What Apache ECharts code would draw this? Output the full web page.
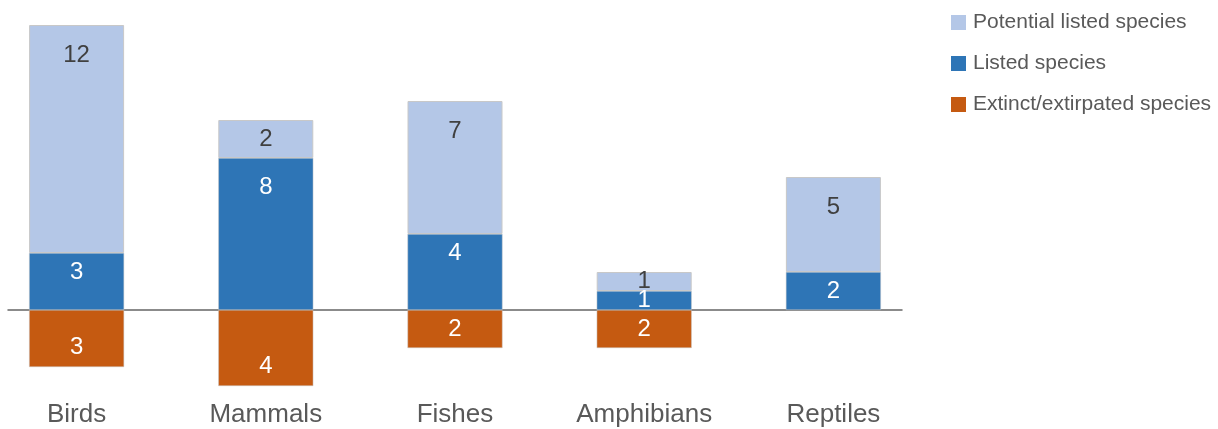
<!DOCTYPE html>
<html>
<head>
<meta charset="utf-8">
<style>
  html, body { margin: 0; padding: 0; background: #ffffff; }
  #chart { width: 1218px; height: 429px; }
</style>
<script src="https://cdn.jsdelivr.net/npm/echarts@6/dist/echarts.min.js"></script>
</head>
<body>
<div id="chart"></div>
<script>
// Species counts per group
const categories = ['Birds', 'Mammals', 'Fishes', 'Amphibians', 'Reptiles'];
const potentialListed = [12, 2, 7, 1, 5];
const listed = [3, 8, 4, 1, 2];
const extinct = [3, 4, 2, 2, 0];   // drawn below the baseline

const FONT = 'Liberation Sans, Arial, sans-serif';
const Y_MIN = -5, Y_MAX = 15;

// Label placement per segment, chosen from the segment's size
function potentialItem(v) {
  return {
    value: v,
    label: v >= 5
      ? { position: 'insideTop', distance: 18 }
      : { position: 'inside' }
  };
}
function listedItem(v) {
  let label;
  if (v >= 6) label = { position: 'insideTop', distance: 17 };
  else if (v >= 3) label = { position: 'insideTop', distance: 7 };
  else label = { position: 'inside' };
  return { value: v, label };
}
function extinctItem(v) {
  return {
    value: v === 0 ? null : -v,
    label: v >= 3
      ? { position: 'insideBottom', distance: 8 }
      : { position: 'inside' }
  };
}

const chart = echarts.init(document.getElementById('chart'), null, { renderer: 'canvas' });

const labelBase = {
  show: true,
  fontFamily: FONT,
  fontSize: 24,
  formatter: p => Math.abs(p.value)
};

chart.setOption({
  animation: false,
  backgroundColor: '#ffffff',
  legend: {
    orient: 'vertical',
    left: 951,
    top: 12,
    padding: 0,
    icon: 'rect',
    itemWidth: 15,
    itemHeight: 15,
    itemGap: 20,
    itemStyle: { borderWidth: 0 },
    textStyle: { fontFamily: FONT, fontSize: 21, color: '#595959', padding: [0, 0, 0, 2] },
    data: ['Potential listed species', 'Listed species', 'Extinct/extirpated species']
  },
  grid: [
    { left: -18, right: 290, top: 25, bottom: 24, containLabel: false, outerBoundsMode: 'none' },
    { left: 8, right: 316, top: 25, bottom: 24, containLabel: false, outerBoundsMode: 'none' }
  ],
  xAxis: [
    {
      type: 'category',
      gridIndex: 0,
      data: categories,
      axisLine: { show: false },
      axisTick: { show: false },
      axisLabel: {
        fontFamily: FONT,
        fontSize: 26,
        color: '#595959',
        margin: -3
      }
    },
    {
      type: 'category',
      gridIndex: 1,
      data: categories,
      axisLine: { show: true, onZero: true, lineStyle: { color: '#666666', width: 1.5 } },
      axisTick: { show: false },
      axisLabel: { show: false }
    }
  ],
  yAxis: [
    { type: 'value', gridIndex: 0, min: Y_MIN, max: Y_MAX, show: false },
    { type: 'value', gridIndex: 1, min: Y_MIN, max: Y_MAX, show: false }
  ],
  series: [
    {
      name: 'Listed species',
      type: 'bar',
      stack: 'total',
      barWidth: 95,
      itemStyle: { color: '#2e75b6', borderColor: '#c8c8c8', borderWidth: 0.5 },
      label: Object.assign({}, labelBase, { color: '#ffffff' }),
      data: listed.map(listedItem)
    },
    {
      name: 'Potential listed species',
      type: 'bar',
      stack: 'total',
      barWidth: 95,
      itemStyle: { color: '#b4c7e7', borderColor: '#c8c8c8', borderWidth: 1 },
      label: Object.assign({}, labelBase, { color: '#404040' }),
      data: potentialListed.map(potentialItem)
    },
    {
      name: 'Extinct/extirpated species',
      type: 'bar',
      stack: 'total',
      barWidth: 95,
      itemStyle: { color: '#c55a11', borderColor: '#c8c8c8', borderWidth: 0.5 },
      label: Object.assign({}, labelBase, { color: '#ffffff' }),
      data: extinct.map(extinctItem)
    }
  ]
});
</script>
</body>
</html>
